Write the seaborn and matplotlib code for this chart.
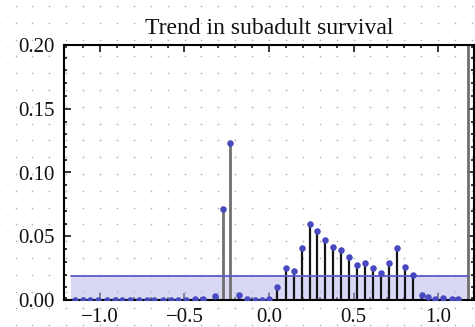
import numpy as np
import pandas as pd
import matplotlib
matplotlib.use("Agg")
import matplotlib.pyplot as plt
import seaborn as sns
from matplotlib.ticker import MultipleLocator

# ---------------- data ----------------
title = "Trend in subadult survival"
trend_x = [-1.15, -1.10, -1.06, -1.01, -0.96, -0.91, -0.87, -0.82, -0.77, -0.72,
           -0.68, -0.63, -0.58, -0.54, -0.49, -0.44, -0.39, -0.32, -0.274, -0.228,
           -0.178, -0.13, -0.085, -0.04, 0.0, 0.049, 0.099, 0.146, 0.193, 0.241,
           0.286, 0.333, 0.380, 0.428, 0.475, 0.522, 0.570, 0.617, 0.665, 0.712,
           0.759, 0.807, 0.854, 0.904, 0.939, 0.985, 1.03, 1.08, 1.12, 1.178]
trend_p = [0.0002, 0.0002, 0.0002, 0.0003, 0.0002, 0.0002, 0.0003, 0.0002, 0.0003, 0.0002,
           0.0003, 0.0002, 0.0003, 0.0002, 0.0003, 0.0004, 0.0006, 0.0030, 0.0714, 0.1230,
           0.0040, 0.0005, 0.0003, 0.0003, 0.0008, 0.0105, 0.0249, 0.0230, 0.0405, 0.0594,
           0.0544, 0.0470, 0.0418, 0.0392, 0.0340, 0.0275, 0.0293, 0.0248, 0.0210, 0.0290,
           0.0405, 0.0260, 0.0200, 0.0040, 0.0026, 0.0010, 0.0013, 0.0008, 0.0006, 0.4500]
band_x = [-1.17, 1.175]
band_level = 0.0192
x_ticks = [-1.0, -0.5, 0.0, 0.5, 1.0]
x_labels = ["\u22121.0", "\u22120.5", "0.0", "0.5", "1.0"]
y_ticks = [0.00, 0.05, 0.10, 0.15, 0.20]
y_labels = ["0.00", "0.05", "0.10", "0.15", "0.20"]

df = pd.DataFrame({"x": trend_x, "p": trend_p})

# ---------------- figure ----------------
sns.set_theme(style="white")
plt.rcParams["font.family"] = ["Liberation Serif", "DejaVu Serif"]

W, H = 475, 327
fig = plt.figure(figsize=(W / 100, H / 100), dpi=100, facecolor="white")

# dotted background grid over the whole figure
bg = fig.add_axes([0, 0, 1, 1], zorder=-5)
bg.set_xlim(0, W)
bg.set_ylim(H, 0)
bg.axis("off")
gx = np.arange(269 - 16.9 * 16, W, 16.9)
gy = np.arange(6, H, 16.8)
GX, GY = np.meshgrid(gx, gy)
bg.scatter(GX.ravel(), GY.ravel(), s=1.6, color="#b8b8b8", linewidths=0)

left, right, top, bottom = 64, 474, 45, 300
ax = fig.add_axes([left / W, 1 - bottom / H, (right - left) / W, (bottom - top) / H])
ax.patch.set_alpha(0)
ax.set_xlim(-1.213, 1.213)
ax.set_ylim(0, 0.2)

# shaded band
ax.fill_between(band_x, 0, band_level, color="#b9b9ee", alpha=0.55, linewidth=0, zorder=1)

# stems
tall = df["p"] > 0.065
ax.vlines(df.loc[~tall, "x"], 0, df.loc[~tall, "p"], color="#151515", linewidth=1.6, zorder=2)
ax.vlines(df.loc[tall, "x"], 0, df.loc[tall, "p"], color="#707070", linewidth=2.0, zorder=2)

ax.plot(band_x, [band_level, band_level], color="#5a5ac8", linewidth=1.3, zorder=3)

sns.scatterplot(data=df, x="x", y="p", ax=ax, color="#4848c0", s=22,
                linewidth=0, zorder=4, clip_on=True)

ax.set_xlabel("")
ax.set_ylabel("")
ax.set_title(title, fontsize=17, pad=8, color="#111111")

ax.set_xticks(x_ticks)
ax.set_xticklabels(x_labels)
ax.set_yticks(y_ticks)
ax.set_yticklabels(y_labels)
ax.xaxis.set_minor_locator(MultipleLocator(0.1))
ax.yaxis.set_minor_locator(MultipleLocator(0.01))

for s in ax.spines.values():
    s.set_visible(True)
    s.set_color("black")
    s.set_linewidth(1.5)

ax.tick_params(which="both", direction="in", top=True, right=True,
               bottom=True, left=True, color="black", width=1.1,
               labelsize=15, labelcolor="#111111")
ax.tick_params(which="major", length=5)
ax.tick_params(which="minor", length=2.5)
ax.tick_params(axis="x", which="major", pad=6)
ax.tick_params(axis="y", which="major", pad=7)

fig.savefig("out.png", dpi=100, facecolor="white")
